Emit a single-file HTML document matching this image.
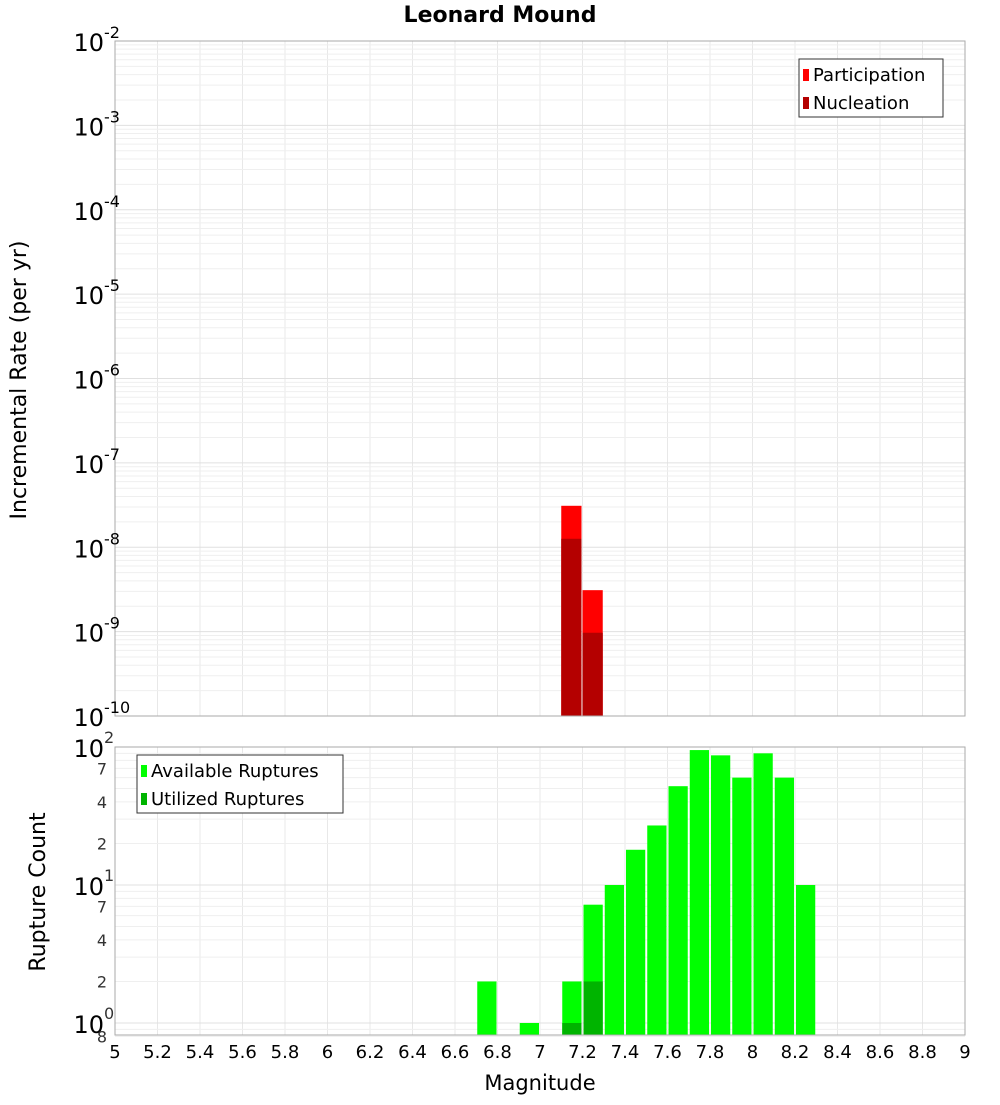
<!DOCTYPE html>
<html><head><meta charset="utf-8"><style>
body{margin:0;background:#fff;width:1000px;height:1100px;overflow:hidden}
svg{font-family:"DejaVu Sans","Liberation Sans",sans-serif}
</style></head><body>
<svg id="c" width="1000" height="1100"></svg>
<script>
const binCenters=[6.75,6.95,7.15,7.25,7.35,7.45,7.55,7.65,7.75,7.85,7.95,8.05,8.15,8.25];
const availableCounts=[2,1,2,7.2,10,18,27,52,95,87,60,90,60,10];
const utilizedMags=[7.15,7.25];
const utilizedCounts=[1,2];
const rateMags=[7.15,7.25];
const participationRates=[3.1e-8,3.1e-9];
const nucleationRates=[1.26e-8,9.7e-10];
const xTicks=[5,5.2,5.4,5.6,5.8,6,6.2,6.4,6.6,6.8,7,7.2,7.4,7.6,7.8,8,8.2,8.4,8.6,8.8,9];

const NS="http://www.w3.org/2000/svg";
const svg=document.getElementById('c');
function el(tag,attrs,parent){const e=document.createElementNS(NS,tag);for(const k in attrs)e.setAttribute(k,attrs[k]);(parent||svg).appendChild(e);return e;}
const L=115,R=965;
const x=v=>L+(v-5)/(9-5)*(R-L);
const T1=41,B1=716;const y1=v=>T1+(-2-Math.log10(v))/8*(B1-T1);
const T2=747,B2=1035;const y2=v=>T2+(2-Math.log10(v))*138;

// grids
const g=el('g',{});

xTicks.forEach(t=>{el('line',{x1:x(t),x2:x(t),y1:T1,y2:B1,stroke:'#e8e8e8'},g);el('line',{x1:x(t),x2:x(t),y1:T2,y2:B2,stroke:'#e8e8e8'},g);});
for(let d=-10;d<-2;d++)for(let m=1;m<10;m++){const yy=y1(m*Math.pow(10,d));el('line',{x1:L,x2:R,y1:yy,y2:yy,stroke:m==1?'#e0e0e0':'#efefef'},g);}
for(let d=-1;d<2;d++)for(let m=1;m<10;m++){const v=m*Math.pow(10,d);if(v<0.8)continue;const yy=y2(v);el('line',{x1:L,x2:R,y1:yy,y2:yy,stroke:m==1?'#e0e0e0':'#efefef'},g);}

// top bars
rateMags.forEach((m,i)=>{
 let r=el('rect',{x:x(m-0.05),y:y1(participationRates[i]),width:x(m+0.05)-x(m-0.05)-1,height:B1-y1(participationRates[i]),fill:'#ff0000'});
 
 r=el('rect',{x:x(m-0.05),y:y1(nucleationRates[i]),width:x(m+0.05)-x(m-0.05)-1,height:B1-y1(nucleationRates[i]),fill:'#b40000'});
 
});
// bottom bars
binCenters.forEach((m,i)=>{
 const r=el('rect',{x:x(m-0.05)+1,y:y2(availableCounts[i]),width:x(m+0.05)-x(m-0.05)-2,height:B2-y2(availableCounts[i]),fill:'#00ff00'});
 
});
utilizedMags.forEach((m,i)=>{
 const r=el('rect',{x:x(m-0.05)+1,y:y2(utilizedCounts[i]),width:x(m+0.05)-x(m-0.05)-2,height:B2-y2(utilizedCounts[i]),fill:'#00b400'});
 
});
// frames
el('rect',{x:L,y:T1,width:R-L,height:B1-T1,fill:'none',stroke:'#aaa'});
el('rect',{x:L,y:T2,width:R-L,height:B2-T2,fill:'none',stroke:'#aaa'});

// top y labels
for(let d=-2;d>=-10;d--){
 const yy=y1(Math.pow(10,d));
 const t=el('text',{x:104,y:yy+10,'text-anchor':'end','font-size':24,fill:'#000'});t.textContent='10';
 
 const s=el('text',{x:104,y:yy-3,'font-size':16});s.textContent=String(d);
}
// bottom y labels
[[100,'2'],[10,'1'],[1,'0']].forEach(([v,e])=>{const yy=y2(v);
 const t=el('text',{x:104,y:yy+10,'text-anchor':'end','font-size':24});t.textContent='10';
 
 const s=el('text',{x:104,y:yy-4,'font-size':16,fill:'#333'});s.textContent=e;});
[7,4,2,70,40,20,0.8].forEach(v=>{const yy=y2(v);const t=el('text',{x:107,y:yy+6,'text-anchor':'end','font-size':16,fill:'#333'});t.textContent=String(v>=10?v/10:(v<1?8:v));});
// x labels
xTicks.forEach(t=>{const e=el('text',{x:x(t),y:1058,'text-anchor':'middle','font-size':18});e.textContent=String(t);
 });

// titles
let t=el('text',{x:500,y:22,'text-anchor':'middle','font-size':22,'font-weight':'bold'});t.textContent='Leonard Mound';

t=el('text',{x:540,y:1090,'text-anchor':'middle','font-size':21});t.textContent='Magnitude';

t=el('text',{x:26,y:380,'text-anchor':'middle','font-size':22,transform:'rotate(-90 26 380)'});t.textContent='Incremental Rate (per yr)';

t=el('text',{x:45,y:892,'text-anchor':'middle','font-size':22,transform:'rotate(-90 45 892)'});t.textContent='Rupture Count';


// legends
function legend(x0,y0,w,items,name){
 const lg=el('g',{});
 el('rect',{x:x0,y:y0,width:w,height:58,fill:'#fff',stroke:'#333'},lg);
 items.forEach(([c,lab],i)=>{el('rect',{x:x0+4,y:y0+10+i*28,width:6,height:12,fill:c},lg);
  const tt=el('text',{x:x0+14,y:y0+22+i*28,'font-size':18},lg);tt.textContent=lab;});
}
legend(799,59,144,[['#ff0000','Participation'],['#b40000','Nucleation']],'rate-legend');
legend(137,755,206,[['#00ff00','Available Ruptures'],['#00b400','Utilized Ruptures']],'count-legend');
</script>
</body></html>
